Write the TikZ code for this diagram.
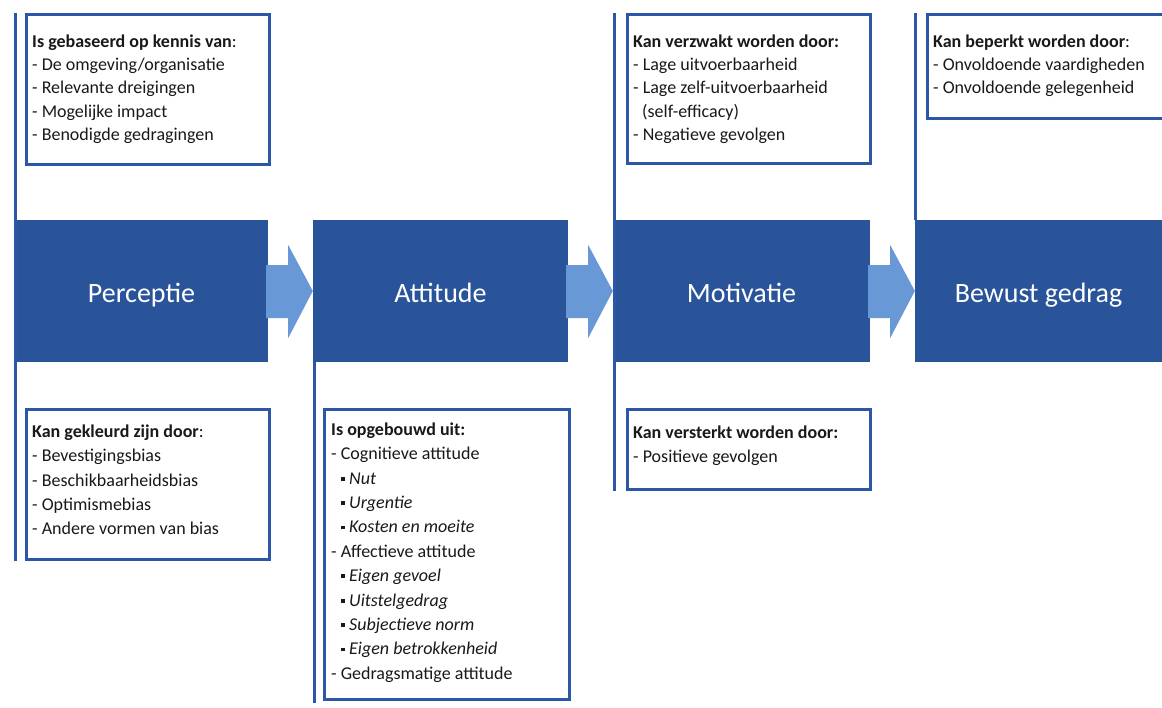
\documentclass[tikz,border=0pt]{standalone}
\usepackage{fontspec}
\setmainfont{Carlito}
\usetikzlibrary{calc}
\definecolor{boxblue}{RGB}{42,84,154}
\definecolor{lineblue}{RGB}{44,86,168}
\definecolor{arrowblue}{RGB}{104,152,214}
\definecolor{txtgray}{RGB}{25,25,25}
\newcommand\sqbul{\hspace*{10pt}\rule[3.5pt]{3.8pt}{3.8pt}\hspace{4.2pt}}
\newcommand\firststrut{\rule{0pt}{13pt}}
\begin{document}
\begin{tikzpicture}[x=1pt,y=-1pt,
  stage/.style={fill=boxblue, draw=none, inner sep=0pt, minimum height=142pt,
    text=white, font=\fontsize{28}{30}\selectfont, text height=22pt, text depth=0pt},
  infobox/.style={draw=lineblue, line width=2.8pt, inner sep=0pt, anchor=north west},
  info/.style={anchor=north west, inner sep=0pt, align=left, text=txtgray,
    font=\fontsize{18}{23.3}\selectfont},
  infob/.style={info, font=\fontsize{18}{24.4}\selectfont},
  spine/.style={draw=lineblue, line width=3.2pt},
  flow/.style={fill=arrowblue, draw=none}]
\useasboundingbox (0,0) rectangle (1162,707);
\clip (0,0) rectangle (1162,707);
\fill[white] (0,0) rectangle (1162,707);

% stage boxes
\node[stage, minimum width=253pt] (P) at (141.5,291) {Perceptie};
\node[stage, minimum width=255pt] (A) at (440.5,291) {Attitude};
\node[stage, minimum width=257pt] (M) at (741.5,291) {Motivatie};
\node[stage, minimum width=247pt] (B) at (1038.5,291) {Bewust gedrag};

% block arrows
\foreach \a/\b in {P/A,A/M,M/B}{
  \fill[flow] ($(\a.east)+(-2,-26)$) -- ($(\a.east)+(20,-26)$) -- ($(\a.east)+(20,-46)$)
    -- (\b.west) -- ($(\a.east)+(20,47)$) -- ($(\a.east)+(20,27)$)
    -- ($(\a.east)+(-2,27)$) -- cycle;
}

% information boxes
\node[infobox, minimum width=243pt, minimum height=150pt] (Ptop) at (25,13) {};
\node[infobox, minimum width=243pt, minimum height=150pt] (Pbot) at (25,408) {};
\node[infobox, minimum width=245pt, minimum height=290pt] (Abot) at (323,408) {};
\node[infobox, minimum width=243pt, minimum height=149pt] (Mtop) at (626,13) {};
\node[infobox, minimum width=243pt, minimum height=80pt] (Mbot) at (626,408) {};
\node[infobox, minimum width=260pt, minimum height=104pt] (Btop) at (926,13) {};

% spines
\draw[spine] ($(P.north west |- Ptop.north)+(1,0)$) -- ($(P.south west |- Pbot.south)+(1,0)$);
\draw[spine] ($(A.south west)+(2,0)$) -- ($(A.south west |- Abot.south)+(2,2)$);
\draw[spine] ($(M.north west |- Mtop.north)+(2,0)$) -- ($(M.south west |- Mbot.south)+(2,0)$);
\draw[spine] ($(B.north west |- Btop.north)+(1,0)$) -- ($(B.north west)+(1,0)$);

% texts
\node[info] (PtopT) at ($(Ptop.north west)+(7,21)$) {\firststrut\textbf{Is gebaseerd op kennis van}:\\
- De omgeving/organisatie\\
- Relevante dreigingen\\
- Mogelijke impact\\
- Benodigde gedragingen};

\node[infob] (PbotT) at ($(Pbot.north west)+(7,16)$) {\firststrut\textbf{Kan gekleurd zijn door}:\\
- Bevestigingsbias\\
- Beschikbaarheidsbias\\
- Optimismebias\\
- Andere vormen van bias};

\node[infob] (AbotT) at ($(Abot.north west)+(8,14)$) {\firststrut\textbf{Is opgebouwd uit:}\\
- Cognitieve attitude\\
\sqbul\textit{Nut}\\
\sqbul\textit{Urgentie}\\
\sqbul\textit{Kosten en moeite}\\
- Affectieve attitude\\
\sqbul\textit{Eigen gevoel}\\
\sqbul\textit{Uitstelgedrag}\\
\sqbul\textit{Subjectieve norm}\\
\sqbul\textit{Eigen betrokkenheid}\\
- Gedragsmatige attitude};

\node[info] (MtopT) at ($(Mtop.north west)+(7,21)$) {\firststrut\textbf{Kan verzwakt worden door:}\\
- Lage uitvoerbaarheid\\
- Lage zelf-uitvoerbaarheid\\
\hspace*{9pt}(self-efficacy)\\
- Negatieve gevolgen};

\node[infob] (MbotT) at ($(Mbot.north west)+(7,17)$) {\firststrut\textbf{Kan versterkt worden door:}\\
- Positieve gevolgen};

\node[info] (BtopT) at ($(Btop.north west)+(7,21)$) {\firststrut\textbf{Kan beperkt worden door}:\\
- Onvoldoende vaardigheden\\
- Onvoldoende gelegenheid};
\end{tikzpicture}
\end{document}
